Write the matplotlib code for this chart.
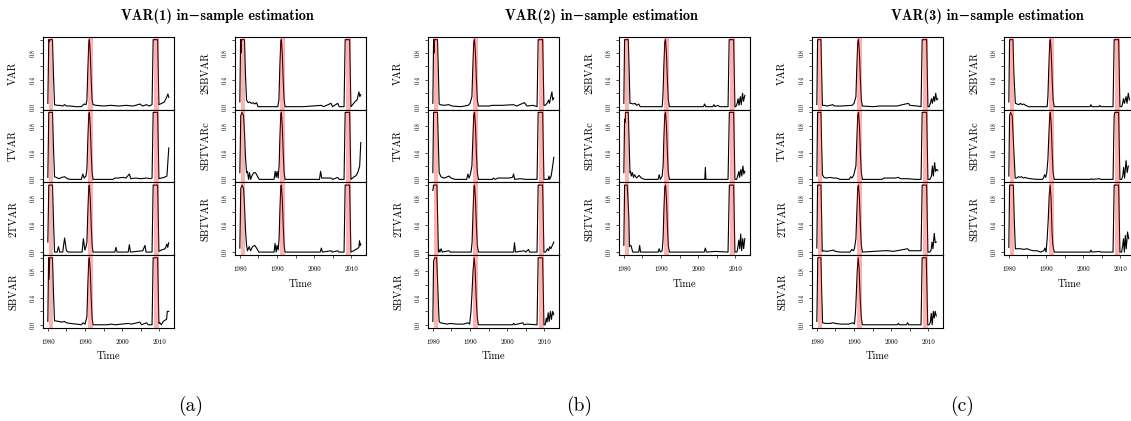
import matplotlib
matplotlib.use('Agg')
import matplotlib.pyplot as plt

plt.rcParams['font.family'] = ['cmr10', 'DejaVu Serif']
plt.rcParams['mathtext.fontset'] = 'cm'
plt.rcParams['axes.formatter.use_mathtext'] = True

# shaded recession bands (start, end)
recessions = [(1980.37, 1981.5), (1990.85, 1992.15), (2008.55, 2009.85)]

titles = ['VAR(1) in\u2212sample estimation',
          'VAR(2) in\u2212sample estimation',
          'VAR(3) in\u2212sample estimation']
tags = ['(a)', '(b)', '(c)']
left_names = ['VAR', 'TVAR', '2TVAR', 'SBVAR']
right_names = ['2SBVAR', 'SBTVARc', 'SBTVAR']

xticks = [1980, 1985, 1990, 1995, 2000, 2005, 2010]
xticklabels = ['1980', '', '1990', '', '2000', '', '2010']
yticks = [0.0, 0.2, 0.4, 0.6, 0.8, 1.0]
yticklabels = ['0.0', '', '0.4', '', '0.8', '']

# ---- panel (a): VAR(1) ----
a_var = [(1980.0,.05),(1980.25,1.0),(1980.4,.97),(1980.55,1.0),(1981.25,1.0),(1981.5,.5),(1981.8,.03),
         (1982.5,.02),(1983.25,.02),(1984.0,.01),(1984.5,.03),(1985.0,.01),(1986.0,.01),(1987.5,0.0),(1989.0,0.0),(1989.75,.04),(1990.25,.03),
         (1990.5,.1),(1990.75,.55),(1991.0,.95),(1991.15,1.0),(1991.4,.8),(1991.65,.4),(1991.9,.1),(1992.15,.03),
         (1993.0,.02),(1995.0,.01),(1997.0,.02),(1999.0,.01),(2001.0,.02),(2003.0,.01),(2004.75,.04),(2005.5,.01),(2006.5,.03),(2007.25,.01),(2008.0,.03),
         (2008.3,1.0),(2009.5,1.0),(2009.85,.03),
         (2010.6,.05),(2011.3,.07),(2012.0,.15),(2012.25,.19),(2012.5,.14)]
a_tvar = [(1980.0,.03),(1980.25,1.0),(1981.25,1.0),(1981.5,.5),(1981.8,.04),
          (1982.25,.03),(1983.0,.01),(1983.75,.03),(1984.5,.04),(1985.25,.01),(1986.0,0.0),(1989.0,0.0),(1989.4,.08),(1989.75,.02),(1990.25,.05),
          (1990.5,.15),(1990.75,.6),(1991.0,.97),(1991.15,1.0),(1991.4,.8),(1991.65,.4),(1991.9,.1),(1992.15,0.0),
          (1997.5,0.0),(1998.0,.02),(1999.0,.02),(2000.0,.03),(2001.0,.02),(2001.9,.08),(2002.3,.01),(2003.5,.02),(2005.0,.01),(2006.5,.02),(2007.5,.01),(2008.0,.02),
          (2008.3,1.0),(2009.5,1.0),(2009.85,.01),
          (2010.5,.02),(2011.25,.03),(2012.0,.05),(2012.5,.47)]
a_2tvar = [(1980.0,.15),(1980.25,1.0),(1981.25,1.0),(1981.5,.5),(1981.8,0.0),
           (1982.5,0.0),(1982.85,.08),(1983.2,0.0),(1984.0,0.0),(1984.5,.21),(1985.0,.02),(1985.5,0.0),(1989.2,0.0),(1989.55,.2),(1989.95,.03),(1990.25,.08),
           (1990.5,.15),(1990.75,.6),(1991.0,.97),(1991.15,1.0),(1991.4,.8),(1991.65,.4),(1991.9,.1),(1992.15,0.0),
           (1998.0,0.0),(1998.3,.07),(1998.6,0.0),(2001.6,0.0),(2001.9,.11),(2002.2,0.0),(2005.5,.02),(2006.1,.1),(2006.4,0.0),(2008.0,0.0),
           (2008.3,1.0),(2009.5,1.0),(2009.85,.01),
           (2010.5,.03),(2011.5,.05),(2012.0,.12),(2012.2,.07),(2012.5,.14)]
a_sbvar = [(1980.0,.05),(1980.2,1.0),(1980.35,.68),(1980.5,1.0),(1981.25,1.0),(1981.5,.5),(1981.8,.06),
           (1982.9,.05),(1983.75,.04),(1984.5,.05),(1985.0,.03),(1986.0,.02),(1987.75,.01),(1989.0,0.0),(1989.5,.03),(1990.0,.01),
           (1990.5,.12),(1990.75,.6),(1991.0,.97),(1991.15,1.0),(1991.4,.8),(1991.65,.4),(1991.9,.1),(1992.15,0.0),
           (1996.0,0.0),(1997.0,.01),(1998.0,0.0),(2001.6,.02),(2002.5,.01),(2004.7,.04),(2005.2,0.0),(2006.5,.03),(2007.0,0.0),(2008.0,0.0),
           (2008.3,1.0),(2009.5,1.0),(2009.85,.02),
           (2010.1,.03),(2010.5,0.0),(2011.0,.05),(2011.5,.07),(2011.9,.08),(2012.1,.2),(2012.5,.2)]
a_2sbvar = [(1980.0,.07),(1980.2,1.0),(1980.3,.8),(1980.45,1.0),(1981.25,1.0),(1981.5,.5),(1981.8,.1),
            (1982.25,.06),(1982.7,.07),(1983.1,.05),(1983.6,.06),(1984.0,.04),(1984.5,.06),(1984.9,0.0),(1990.2,0.0),
            (1990.5,.1),(1990.75,.6),(1991.0,.97),(1991.15,1.0),(1991.4,.8),(1991.65,.4),(1991.9,.1),(1992.15,0.0),
            (1997.0,0.0),(2001.9,.02),(2002.5,0.0),(2004.5,.05),(2004.9,0.0),(2006.3,.05),(2006.7,0.0),(2008.0,0.0),
            (2008.3,1.0),(2009.5,1.0),(2009.85,0.0),
            (2010.3,.03),(2011.0,.08),(2011.5,.1),(2012.0,.22),(2012.25,.15),(2012.5,.18)]
a_sbtvarc = [(1980.0,.1),(1980.25,.95),(1980.6,1.0),(1981.0,.95),(1981.25,.7),(1981.5,.35),(1981.8,.1),
             (1982.05,.12),(1982.35,0.0),(1982.6,.1),(1982.9,0.0),(1983.3,.06),(1983.75,.1),(1984.2,.1),(1984.7,.05),(1985.2,0.0),(1989.2,0.0),(1989.5,.12),(1989.75,.03),(1990.0,.12),(1990.3,.02),
             (1990.55,.2),(1990.75,.6),(1991.0,.97),(1991.15,1.0),(1991.4,.8),(1991.65,.4),(1991.9,.1),(1992.15,0.0),
             (2001.4,0.0),(2001.7,.12),(2002.0,.02),(2004.5,.02),(2005.0,0.0),(2006.3,.03),(2006.7,0.0),(2008.0,0.0),
             (2008.3,1.0),(2009.5,1.0),(2009.85,0.0),
             (2010.5,.03),(2011.3,.06),(2011.8,.12),(2012.2,.2),(2012.5,.55)]
a_sbtvar = [(1980.0,.06),(1980.25,.95),(1980.6,1.0),(1981.0,.95),(1981.25,.7),(1981.5,.35),(1981.8,.1),
            (1982.05,.02),(1982.5,.08),(1982.9,.02),(1983.4,.08),(1984.0,.1),(1984.6,.05),(1985.1,0.0),(1989.2,0.0),(1989.45,.13),(1989.75,0.0),(1990.0,.1),(1990.3,.03),
            (1990.55,.2),(1990.75,.6),(1991.0,.97),(1991.15,1.0),(1991.4,.8),(1991.65,.4),(1991.9,.1),(1992.15,0.0),
            (2001.6,0.0),(2001.9,.06),(2002.2,0.0),(2004.5,.02),(2004.8,0.0),(2006.3,.02),(2006.6,0.0),(2008.0,0.0),
            (2008.3,1.0),(2009.5,1.0),(2009.85,0.0),
            (2010.6,.02),(2011.5,.05),(2012.0,.07),(2012.15,.17),(2012.35,.1),(2012.5,.12)]

# ---- panel (b): VAR(2) ----
b_var = [(1980.0,.05),(1980.2,1.0),(1980.3,.8),(1980.45,1.0),(1981.25,1.0),(1981.5,.5),(1981.7,.04),
         (1982.0,.03),(1983.0,.02),(1984.3,.03),(1985.2,.01),(1987.5,0.0),(1989.5,.02),(1990.0,.05),
         (1990.5,.15),(1990.75,.6),(1991.0,.97),(1991.2,1.0),(1991.45,.8),(1991.7,.4),(1991.95,.1),(1992.25,.01),
         (1995.0,.01),(1996.0,.02),(1998.5,.02),(2001.7,.03),(2002.5,.01),(2004.6,.06),(2005.3,.01),(2007.0,.02),(2008.0,0.0),
         (2008.3,1.0),(2009.5,1.0),(2009.85,.02),
         (2010.2,.02),(2010.8,.06),(2011.1,.1),(2011.35,.05),(2011.7,.15),(2012.0,.22),(2012.2,.1),(2012.5,.13)]
b_tvar = [(1980.0,.1),(1980.2,1.0),(1981.25,1.0),(1981.5,.5),(1981.7,.1),
          (1981.85,.08),(1982.2,.04),(1982.5,.03),(1983.0,.02),(1983.6,.03),(1984.3,.05),(1984.9,.02),(1986.0,0.0),(1989.1,0.0),(1989.4,.08),(1989.75,.02),(1990.1,.08),
          (1990.5,.2),(1990.75,.6),(1991.0,.97),(1991.2,1.0),(1991.45,.8),(1991.7,.4),(1991.95,.1),(1992.25,0.0),
          (1996.0,0.0),(1996.3,.02),(1996.7,0.0),(1997.5,.02),(1999.0,.02),(2000.5,.02),(2001.4,.03),(2001.7,.08),(2002.0,0.0),(2003.5,.01),(2005.0,0.0),(2008.0,0.0),
          (2008.3,1.0),(2009.5,1.0),(2009.85,0.0),
          (2011.0,0.0),(2011.2,.05),(2011.4,0.0),(2011.8,.05),(2012.2,.2),(2012.5,.33)]
b_2tvar = [(1980.0,.92),(1980.2,1.0),(1981.1,1.0),(1981.3,.5),(1981.5,.0),
           (1981.65,.04),(1981.9,0.0),(1982.2,.05),(1982.55,0.0),(1984.3,.02),(1984.7,0.0),(1990.3,0.0),
           (1990.55,.15),(1990.8,.6),(1991.05,.97),(1991.2,1.0),(1991.45,.8),(1991.7,.4),(1991.95,.1),(1992.25,0.0),
           (2001.7,0.0),(2001.95,.14),(2002.2,0.0),(2004.5,.02),(2005.0,0.0),(2005.7,.04),(2006.0,0.0),(2008.0,0.0),
           (2008.3,1.0),(2009.5,1.0),(2009.85,0.0),
           (2010.3,0.0),(2010.8,.05),(2011.1,.02),(2011.4,.08),(2011.7,.05),(2012.1,.1),(2012.5,.15)]
b_sbvar = [(1980.0,.05),(1980.2,.95),(1980.5,1.0),(1981.0,1.0),(1981.25,.7),(1981.5,.3),(1981.7,.05),
           (1982.0,.03),(1983.0,.02),(1983.8,.01),(1984.7,.02),(1986.5,.01),(1988.3,.01),(1989.4,.03),(1989.9,.01),
           (1990.25,.2),(1990.5,.45),(1990.8,.8),(1991.1,1.0),(1991.35,.85),(1991.65,.4),(1991.95,.1),(1992.25,0.0),
           (2001.4,0.0),(2001.7,.02),(2002.0,0.0),(2004.2,.03),(2004.5,0.0),(2005.3,.01),(2008.0,0.0),
           (2008.3,1.0),(2009.5,1.0),(2009.85,0.0),
           (2010.2,0.0),(2010.5,.1),(2010.7,.04),(2011.0,.18),(2011.25,.05),(2011.6,.2),(2011.85,.08),(2012.2,.2),(2012.5,.15)]
b_2sbvar = [(1980.0,.05),(1980.2,1.0),(1981.2,1.0),(1981.45,.5),(1981.65,.05),
            (1982.0,.05),(1982.5,.04),(1983.0,.05),(1983.4,.02),(1984.0,.04),(1984.4,0.0),(1990.3,0.0),
            (1990.5,.15),(1990.75,.6),(1991.0,.97),(1991.2,1.0),(1991.45,.8),(1991.7,.4),(1991.95,.1),(1992.25,0.0),
            (2001.4,0.0),(2001.7,.04),(2002.0,0.0),(2003.9,0.0),(2004.2,.03),(2004.5,0.0),(2005.2,.02),(2005.8,0.0),(2008.0,0.0),
            (2008.3,1.0),(2009.5,1.0),(2009.85,0.0),
            (2010.1,0.0),(2010.45,.05),(2010.7,.12),(2010.95,.02),(2011.3,.15),(2011.55,.03),(2011.9,.2),(2012.15,.08),(2012.5,.17)]
b_sbtvarc = [(1980.0,.1),(1980.2,.9),(1980.35,.85),(1980.45,1.0),(1981.2,1.0),(1981.45,.5),(1981.65,.1),
             (1981.8,.12),(1982.0,.05),(1982.3,.1),(1982.6,.03),(1982.9,.07),(1983.4,.02),(1984.1,.06),(1984.7,.02),(1985.6,0.0),(1989.2,0.0),(1989.5,.07),(1989.8,0.0),(1990.3,.05),
             (1990.55,.2),(1990.75,.6),(1991.0,.97),(1991.2,1.0),(1991.45,.8),(1991.7,.4),(1991.95,.1),(1992.25,0.0),
             (2001.75,0.0),(2001.9,.18),(2002.05,0.0),(2008.0,0.0),
             (2008.35,1.0),(2009.5,1.0),(2009.85,0.0),
             (2010.3,0.0),(2010.6,.05),(2010.9,.12),(2011.1,.03),(2011.45,.15),(2011.7,.05),(2012.0,.2),(2012.25,.08),(2012.5,.12)]
b_sbtvar = [(1980.0,.1),(1980.2,1.0),(1980.9,1.0),(1981.1,.8),(1981.35,.5),(1981.5,.08),
            (1981.65,.1),(1981.9,.1),(1982.4,0.0),(1984.0,0.0),(1984.25,.1),(1984.5,0.0),(1989.2,0.0),(1989.5,.05),(1989.8,0.0),(1990.3,.02),
            (1990.55,.2),(1990.75,.6),(1991.0,.97),(1991.2,1.0),(1991.45,.8),(1991.7,.4),(1991.95,.1),(1992.25,0.0),
            (2001.6,0.0),(2001.9,.06),(2002.2,0.0),(2004.5,.01),(2008.0,0.0),
            (2008.35,1.0),(2009.5,1.0),(2009.85,0.0),
            (2010.3,0.0),(2010.5,.02),(2010.7,.1),(2010.9,.18),(2011.15,.05),(2011.4,.27),(2011.65,.02),(2011.95,.2),(2012.2,.05),(2012.5,.2)]

# ---- panel (c): VAR(3) ----
c_var = [(1980.0,.03),(1980.2,1.0),(1981.1,1.0),(1981.3,.5),(1981.5,.02),
         (1982.0,.02),(1982.8,.01),(1984.3,.03),(1984.7,.01),(1986.5,.01),(1989.5,.02),(1990.0,.05),
         (1990.5,.15),(1990.75,.6),(1991.0,.97),(1991.2,1.0),(1991.45,.8),(1991.7,.4),(1991.95,.1),(1992.25,.01),
         (1995.0,0.0),(1997.0,.01),(2001.5,.01),(2004.6,.05),(2005.0,.02),(2007.0,.01),(2008.0,0.0),
         (2008.3,1.0),(2009.5,1.0),(2009.85,0.0),
         (2010.2,0.0),(2010.5,.05),(2010.8,.12),(2011.05,.05),(2011.4,.15),(2011.65,.08),(2011.95,.2),(2012.2,.1),(2012.5,.12)]
c_tvar = [(1980.0,.05),(1980.2,1.0),(1981.1,1.0),(1981.3,.5),(1981.5,.07),
          (1981.9,.03),(1982.5,.02),(1983.5,.03),(1984.5,.02),(1985.3,.02),(1986.3,0.0),(1988.7,0.0),(1989.1,.04),(1989.4,.02),(1989.9,.06),
          (1990.5,.2),(1990.75,.6),(1991.0,.97),(1991.2,1.0),(1991.45,.8),(1991.7,.4),(1991.95,.1),(1992.25,0.0),
          (1997.5,0.0),(1998.0,.02),(1999.5,.02),(2001.0,.02),(2001.9,.03),(2002.5,.01),(2004.5,.01),(2006.5,0.0),(2008.0,0.0),
          (2008.3,1.0),(2009.5,1.0),(2009.85,0.0),
          (2010.4,0.0),(2010.8,.05),(2011.05,.2),(2011.3,.05),(2011.65,.25),(2011.9,.12),(2012.2,.15),(2012.5,.13)]
c_2tvar = [(1980.0,.06),(1980.2,1.0),(1981.1,1.0),(1981.3,.5),(1981.45,.01),
           (1981.8,.02),(1982.7,.01),(1983.6,.02),(1984.5,.03),(1985.0,.01),(1986.3,0.0),(1988.9,0.0),(1989.4,.04),(1989.8,.02),(1990.1,.05),
           (1990.5,.2),(1990.75,.6),(1991.0,.97),(1991.2,1.0),(1991.45,.8),(1991.7,.4),(1991.95,.1),(1992.25,0.0),
           (1998.0,.02),(1999.3,.02),(2000.5,.01),(2001.5,.02),(2004.4,.05),(2004.8,.02),(2006.8,.02),(2008.0,.02),
           (2008.3,1.0),(2009.5,1.0),(2009.85,0.0),
           (2010.3,0.0),(2010.7,.03),(2010.95,.15),(2011.2,.05),(2011.55,.28),(2011.8,.14),(2012.1,.15)]
c_sbvar = [(1980.0,.05),(1980.25,1.0),(1981.1,1.0),(1981.3,.5),(1981.55,.03),
           (1982.2,.02),(1983.5,.02),(1984.4,.03),(1985.0,.02),(1986.5,.01),(1988.5,.01),(1989.7,.03),(1990.1,.01),
           (1990.4,.2),(1990.6,.45),(1990.85,.8),(1991.1,1.0),(1991.35,.85),(1991.65,.4),(1991.95,.1),(1992.25,0.0),
           (2001.6,0.0),(2001.9,.02),(2002.2,0.0),(2004.1,0.0),(2004.4,.03),(2004.7,0.0),(2008.0,0.0),
           (2008.3,1.0),(2009.4,1.0),(2009.8,0.0),
           (2010.2,0.0),(2010.5,.04),(2010.75,.17),(2011.0,0.0),(2011.3,.2),(2011.55,.1),(2011.8,.2),(2012.1,.13)]
c_2sbvar = [(1980.0,.07),(1980.2,1.0),(1981.1,1.0),(1981.35,.5),(1981.75,.05),
            (1982.2,.04),(1982.7,.03),(1983.1,.05),(1983.6,.03),(1984.0,.04),(1984.5,.02),(1984.9,.01),(1985.3,0.0),(1990.3,0.0),
            (1990.5,.15),(1990.75,.6),(1991.0,.97),(1991.15,1.0),(1991.4,.8),(1991.65,.4),(1991.9,.1),(1992.2,0.0),
            (2001.8,0.0),(2002.05,.03),(2002.3,0.0),(2004.2,0.0),(2004.4,.02),(2004.7,0.0),(2008.0,0.0),
            (2008.3,1.0),(2009.5,1.0),(2009.85,0.0),
            (2010.3,0.0),(2010.5,.03),(2010.8,.12),(2011.05,.05),(2011.5,.15),(2011.75,.05),(2012.1,.2),(2012.4,.1)]
c_sbtvarc = [(1980.0,.05),(1980.2,.95),(1980.45,1.0),(1980.9,.95),(1981.2,.6),(1981.7,.02),
             (1982.1,.02),(1982.5,.04),(1982.9,.03),(1983.4,.04),(1983.9,.02),(1984.4,.03),(1984.8,.02),(1985.8,.01),(1987.5,0.0),(1989.0,0.0),(1989.3,.02),(1989.6,.07),(1989.9,.03),(1990.2,.1),
             (1990.5,.3),(1990.75,.65),(1991.0,.97),(1991.15,1.0),(1991.4,.8),(1991.65,.4),(1991.9,.1),(1992.2,0.0),
             (2002.0,0.0),(2002.2,.01),(2002.5,0.0),(2004.4,.01),(2004.7,0.0),(2008.0,0.0),
             (2008.3,.95),(2008.5,1.0),(2009.5,1.0),(2009.85,0.0),
             (2010.3,0.0),(2010.6,.05),(2010.85,.18),(2011.1,.02),(2011.5,.28),(2011.8,.1),(2012.1,.2)]
c_sbtvar = [(1980.0,.07),(1980.2,1.0),(1981.2,1.0),(1981.45,.5),(1981.75,.05),
            (1982.3,.05),(1983.2,.05),(1984.0,.04),(1984.9,.05),(1985.8,.03),(1986.7,.02),(1987.6,.02),(1988.5,0.0),(1989.4,.02),(1989.7,.06),(1990.0,0.0),
            (1990.3,.2),(1990.6,.5),(1990.85,.85),(1991.1,1.0),(1991.35,.8),(1991.6,.3),(1991.85,.1),(1992.2,0.0),
            (2001.8,0.0),(2002.05,.03),(2002.3,0.0),(2004.4,.01),(2004.7,0.0),(2008.0,0.0),
            (2008.3,1.0),(2009.5,1.0),(2009.85,0.0),
            (2010.3,0.0),(2010.6,.1),(2010.8,.2),(2011.05,0.0),(2011.3,.25),(2011.55,.05),(2011.9,.3),(2012.2,.2)]

panels = [
    ([a_var, a_tvar, a_2tvar, a_sbvar], [a_2sbvar, a_sbtvarc, a_sbtvar]),
    ([b_var, b_tvar, b_2tvar, b_sbvar], [b_2sbvar, b_sbtvarc, b_sbtvar]),
    ([c_var, c_tvar, c_2tvar, c_sbvar], [c_2sbvar, c_sbtvarc, c_sbtvar]),
]

W, H = 1131, 421
fig = plt.figure(figsize=(W / 100, H / 100), dpi=100)

col_x = [(43, 235), (428, 619), (812, 1004)]   # left edge of each column, px
title_x = [217, 601, 987]
tag_x = [191, 579, 962]
col_w = 131
top = 37
row_h = 72.7


def add_ax(x0, ytop, w, h):
    return fig.add_axes([x0 / W, 1 - (ytop + h) / H, w / W, h / H])


def draw_column(x0, series, names):
    n = len(series)
    for i, (ser, name) in enumerate(zip(series, names)):
        ax = add_ax(x0, top + i * row_h, col_w, row_h)
        t = [p[0] for p in ser]
        v = [p[1] for p in ser]
        ax.plot(t, v, color='black', lw=0.8, zorder=2)
        for s, e in recessions:
            ax.axvspan(s, e, color='red', alpha=0.3, lw=0, zorder=2.2)
        ax.set_xlim(1978.7, 2013.9)
        ax.set_ylim(-0.045, 1.04)
        ax.set_yticks(yticks)
        ax.set_yticklabels(yticklabels)
        ax.tick_params(axis='y', direction='out', length=2.2, width=0.5,
                       labelsize=4.5, pad=3.2, labelrotation=90)
        for lab in ax.get_yticklabels():
            lab.set_va('center')
        ax.set_ylabel(name, fontsize=7.5)
        ax.yaxis.set_label_coords(-0.19, 0.5)
        for sp in ax.spines.values():
            sp.set_linewidth(0.8)
        if i == n - 1:
            ax.set_xticks(xticks)
            ax.set_xticklabels(xticklabels)
            ax.tick_params(axis='x', direction='out', length=2.2, width=0.5,
                           labelsize=5, pad=6)
            ax.set_xlabel('Time', fontsize=7.5)
            ax.xaxis.set_label_coords(0.5, -0.33)
        else:
            ax.set_xticks([])


for k, (left, right) in enumerate(panels):
    draw_column(col_x[k][0], left, left_names)
    draw_column(col_x[k][1], right, right_names)
    fig.text(title_x[k] / W, 1 - 16 / H, titles[k], ha='center', va='center',
             fontsize=10.3, family=['cmb10', 'DejaVu Serif'])
    fig.text(tag_x[k] / W, 1 - 406 / H, tags[k], ha='center', va='center', fontsize=14)

fig.savefig('out.png', dpi=100)
